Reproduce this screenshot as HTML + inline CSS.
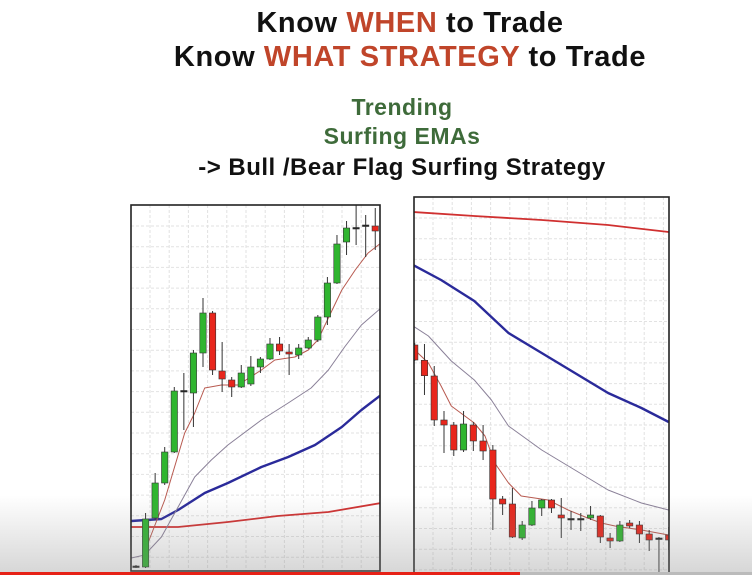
<!DOCTYPE html>
<html><head><meta charset="utf-8">
<style>
html,body{margin:0;padding:0;background:#fff;}
body{width:752px;height:575px;overflow:hidden;position:relative;font-family:"Liberation Sans",Arial,sans-serif;}
svg{position:absolute;left:0;top:0;}
</style></head>
<body>
<svg id="s" width="752" height="575" viewBox="0 0 752 575">
  <defs>
    <linearGradient id="fade" x1="0" y1="0" x2="0" y2="1">
      <stop offset="0" stop-color="#888" stop-opacity="0"/>
      <stop offset="1" stop-color="#888" stop-opacity="0.35"/>
    </linearGradient>
    <clipPath id="clipL"><rect x="131" y="205" width="249" height="366"/></clipPath>
    <clipPath id="clipR"><rect x="414" y="197" width="255" height="378"/></clipPath>
  </defs>
  <g font-family="Liberation Sans, Arial, sans-serif" font-weight="bold" text-anchor="middle">
    <text x="410" y="32" font-size="29" letter-spacing="0.6" fill="#111">Know <tspan fill="#c0452a">WHEN</tspan> to Trade</text>
    <text x="410" y="66" font-size="29" letter-spacing="0.6" fill="#111">Know <tspan fill="#c0452a">WHAT STRATEGY</tspan> to Trade</text>
    <text x="402" y="115" font-size="23" letter-spacing="0.5" fill="#3e6b3a">Trending</text>
    <text x="402" y="144" font-size="23" letter-spacing="0.5" fill="#3e6b3a">Surfing EMAs</text>
    <text x="402" y="175" font-size="24" letter-spacing="0.5" fill="#111">-&gt; Bull /Bear Flag Surfing Strategy</text>
  </g>
  <g id="left"></g>
  <g id="right"></g>
  <rect x="0" y="495" width="752" height="80" fill="url(#fade)"/>
  <rect x="0" y="572" width="752" height="3" fill="#bbb"/>
  <rect x="0" y="572" width="520" height="3" fill="#e62117"/>
</svg>
<script>
// ---- Left chart (bull) data ----
const leftOpen  = [33,33,82,117,148,209,207,247,287,229,220,213,216,233,241,256,248,245,252,260,283,317,358,372,374,374];
const leftClose = [34,81,117,148,209,209.5,247,287,230,221,213,227,233,241,256,249,246,252,260,283,317,356,372,372.5,375,369];
const leftHigh  = [35,87,127,153,213,227,250,302,289,258,223,235,244,243,262,263,256,256,263,285,323,365,379,397,385,392];
const leftLow   = [32,32,80,115,147,170,173,233,225,208,203,212,214,227,240,245,225,241,251,258,275,316,345,355,343,350];
const leftFastIdx = [1.25,3.0,5.09,6.13,7.18,8.92,10.66,13.1,14.5,16.6,18,19,20,21.5,22.9,24.25,25.6];
const leftFastVal = [57,100,167,187,212,215,215,230,240,243,250,260,280,310,330,347,357];
const leftSlowIdx = [-0.49,0.9,2.65,4.4,6.13,7.87,9.6,13.1,15.9,18.3,20.1,21.8,23.55,25.6];
const leftSlowVal = [42,45,63,93,123,140,155,180,197,212,230,253,275,292];
const leftBlueIdx = [-0.49,2.65,4.4,7.18,9.6,13.1,15.9,18.7,21.5,23.55,25.6];
const leftBlueVal = [79,81,90,107,117,133,143,155,173,190,205];
const leftRedIdx  = [-0.49,4.4,9.6,14.8,20.1,25.6];
const leftRedVal  = [73,73,78,84,88,97];
// ---- Right chart (bear) data ----
const rightOpen  = [255,239.7,224,180,175,150,175,159,150,101,96,62,75,92,100,85,81,81,82,84,62,59,77,75,66,62,65];
const rightClose = [240,224.3,180,175,150,176,159,149,101,96,63,75,92,100,92,82,81.5,81.5,85,63,59,75,74,66,60,61,60];
const rightHigh  = [257,256,234,189,178,189,178,175,155,104,112,79,99,101,101,102,89,87,94,85,67,79,80,79,70,63,73];
const rightLow   = [239,205,174,147,144,148,149,140,70,85,62,60,74,84,87,62,70,69,80,57,52,58,72,57,49,24,50];
const rightFastIdx = [0,1.4,2.7,3.75,6.1,7.2,8.2,9.6,10.9,13.65,15.7,17.7,19.1,20.5,23.2,26];
const rightFastVal = [250,237,214,194,177,164,137,117,104,100,90,82,77,74,70,65];
const rightSlowIdx = [-0.17,1.4,3.75,6.1,7.85,9.6,13,16.4,19.8,23.2,26];
const rightSlowVal = [274,264,239,220,200,174,150,130,110,97,90];
const rightBlueIdx = [-0.17,2.7,6.1,9.6,13,16.4,19.8,23.2,26];
const rightBlueVal = [335,320,299,267,247,227,207,192,178];
const rightRedIdx  = [-0.17,6.1,13,19.8,26];
const rightRedVal  = [388,384,380,375,368];

const NS='http://www.w3.org/2000/svg';
function mk(tag,attrs,parent){const e=document.createElementNS(NS,tag);for(const k in attrs)e.setAttribute(k,attrs[k]);parent.appendChild(e);return e;}
const yScale=p=>600-p;

function chart(g,cfg){
  const {fx,fy,fw,fh,x0,step,clip,open,close,high,low,lines}=cfg;
  const xScale=i=>x0+i*step;
  const bg=mk('rect',{x:fx,y:fy,width:fw,height:fh,fill:'#fff'},g);
  
  
  const grid=mk('g',{stroke:'#e2e2e2','stroke-width':1,'stroke-dasharray':'3,2'},g);
  
  
  for(let x=fx+19;x<fx+fw;x+=19.2) mk('line',{x1:x,x2:x,y1:fy,y2:fy+fh},grid);
  for(let y=fy+21;y<fy+fh;y+=20.7) mk('line',{x1:fx,x2:fx+fw,y1:y,y2:y},grid);
  const body=mk('g',{'clip-path':'url(#'+clip+')'},g);
  lines.forEach(L=>{
    const d=L.idx.map((v,k)=>(k?'L':'M')+xScale(v).toFixed(1)+','+yScale(L.val[k]).toFixed(1)).join(' ');
    const p=mk('path',{d:d,fill:'none',stroke:L.color,'stroke-width':L.w,'stroke-linejoin':'round'},body);
    
    
  });
  for(let i=0;i<open.length;i++){
    const x=xScale(i), up=close[i]>=open[i];
    const col=Math.abs(close[i]-open[i])<1.5?'#222':(up?'#2fb52f':'#e8261c');
    const c=mk('g',{},body);
    
    
    mk('line',{x1:x,x2:x,y1:yScale(high[i]),y2:yScale(low[i]),stroke:'#333','stroke-width':1},c);
    const top=yScale(Math.max(open[i],close[i])), h=Math.max(1.5,Math.abs(close[i]-open[i]));
    mk('rect',{x:x-3.2,y:top,width:6.4,height:h,fill:col,stroke:'#333','stroke-width':0.6},c);
  }
  const fr=mk('rect',{x:fx,y:fy,width:fw,height:fh,fill:'none',stroke:'#222','stroke-width':1.6},g);
  
  
}
chart(document.getElementById('left'),{fx:131,fy:205,fw:249,fh:366,x0:136,step:9.57,clip:'clipL',
  open:leftOpen,close:leftClose,high:leftHigh,low:leftLow,
  lines:[{idx:leftRedIdx,val:leftRedVal,color:'#d03030',w:1.8,name:'ema-200'},
         {idx:leftBlueIdx,val:leftBlueVal,color:'#2a2a9a',w:2.4,name:'ema-50'},
         {idx:leftSlowIdx,val:leftSlowVal,color:'#8a8098',w:1,name:'ema-21'},
         {idx:leftFastIdx,val:leftFastVal,color:'#b85a50',w:1,name:'ema-8'}]});
chart(document.getElementById('right'),{fx:414,fy:197,fw:255,fh:385,x0:414.7,step:9.77,clip:'clipR',
  open:rightOpen,close:rightClose,high:rightHigh,low:rightLow,
  lines:[{idx:rightRedIdx,val:rightRedVal,color:'#d03030',w:1.8,name:'ema-200'},
         {idx:rightBlueIdx,val:rightBlueVal,color:'#2a2a9a',w:2.4,name:'ema-50'},
         {idx:rightSlowIdx,val:rightSlowVal,color:'#8a8098',w:1,name:'ema-21'},
         {idx:rightFastIdx,val:rightFastVal,color:'#b85a50',w:1,name:'ema-8'}]});
</script>
</body></html>
